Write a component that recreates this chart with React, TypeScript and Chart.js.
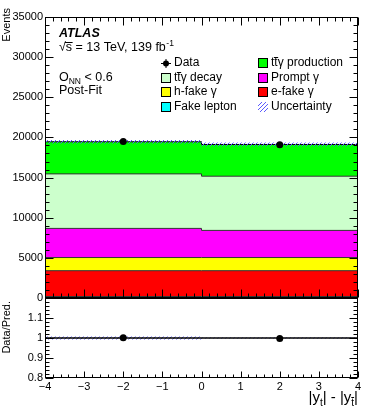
import React, { useEffect, useRef } from 'react';
import { Chart, registerables } from 'chart.js';
Chart.register(...registerables);

// ---- data ----
const binEdges = [-4, 0, 4];
const fakeLepton = [180, 180];
const eFakeGamma = [3220, 3220];
const hFakeGamma = [1640, 1640];
const promptGamma = [3630, 3380];
const ttyDecay = [6790, 6750];
const ttyProduction = [4000, 3955];
const totalUnc = [230, 230];
const dataX = [-2, 2];
const dataY = [19480, 19100];
const ratioData = [1.001, 0.997];
const ratioUnc = [0.007, 0.003];
const mainYRange = [0, 35000];
const mainYStep = 5000;
const ratioYRange = [0.8, 1.2];
const ratioYStep = 0.1;
const xRange = [-4, 4];

const FONT = '"Liberation Sans", Arial, Helvetica, sans-serif';

function stepPts(vals: number[]) {
  return [
    { x: binEdges[0], y: vals[0] },
    { x: binEdges[1], y: vals[1] },
    { x: binEdges[2], y: vals[1] },
  ];
}

function cumulative(list: number[][]) {
  const out: number[][] = [];
  let acc = [0, 0];
  for (const l of list) {
    acc = acc.map((a, i) => a + l[i]);
    out.push(acc.slice());
  }
  return out;
}

function makeHatch(ctx: CanvasRenderingContext2D) {
  const c = document.createElement('canvas');
  c.width = 4;
  c.height = 4;
  const g = c.getContext('2d')!;
  g.fillStyle = '#5a5aff';
  // pixel diagonal (/) lines, crisp
  for (let i = 0; i < 4; i++) g.fillRect(i, 3 - i, 1, 1);
  return ctx.createPattern(c, 'repeat')!;
}

function loopTicks(min: number, max: number, minor: number, perMajor: number, fn: (v: number, major: boolean) => void) {
  const n = Math.round((max - min) / minor);
  for (let i = 0; i <= n; i++) fn(min + i * minor, i % perMajor === 0);
}

function drawFrame(chart: any, cfg: any) {
  const ctx = chart.ctx as CanvasRenderingContext2D;
  const a = chart.chartArea;
  const xs = chart.scales.x;
  const ys = chart.scales.y;
  const L = Math.round(a.left) + 0.5;
  const R = Math.round(a.right) - 0.5;
  const T = Math.round(a.top) + 0.5;
  const B = Math.round(a.bottom) - 0.5;
  ctx.save();
  ctx.strokeStyle = '#000';
  ctx.lineWidth = 1;
  ctx.strokeRect(L, T, R - L, B - T);
  ctx.beginPath();
  loopTicks(cfg.ymin, cfg.ymax, cfg.yminor, 5, (v, maj) => {
    const y = Math.round(ys.getPixelForValue(v)) + 0.5;
    const len = maj ? cfg.yMajLen : cfg.yMinLen;
    ctx.moveTo(L, y); ctx.lineTo(L + len, y);
    ctx.moveTo(R, y); ctx.lineTo(R - len, y);
  });
  loopTicks(xRange[0], xRange[1], 0.2, 5, (v, maj) => {
    const x = Math.round(xs.getPixelForValue(v)) + 0.5;
    const len = maj ? cfg.xMajLen : cfg.xMinLen;
    ctx.moveTo(x, B); ctx.lineTo(x, B - len);
    if (cfg.topTicks) { ctx.moveTo(x, T); ctx.lineTo(x, T + len); }
  });
  ctx.stroke();
  ctx.restore();
}

function drawTT(ctx: CanvasRenderingContext2D, x: number, y: number, rest: string) {
  const wt = ctx.measureText('t').width;
  ctx.fillText('tt', x, y);
  ctx.save();
  ctx.lineWidth = 1;
  ctx.strokeStyle = '#000';
  ctx.beginPath();
  ctx.moveTo(x + wt - 0.5, Math.round(y - 6) + 0.5);
  ctx.lineTo(x + 2 * wt + 0.5, Math.round(y - 6) + 0.5);
  ctx.stroke();
  ctx.restore();
  ctx.fillText(rest, x + 2 * wt, y);
}

export default function App() {
  const mainRef = useRef<HTMLCanvasElement>(null);
  const ratioRef = useRef<HTMLCanvasElement>(null);

  useEffect(() => {
    const mctx = mainRef.current!.getContext('2d')!;
    const rctx = ratioRef.current!.getContext('2d')!;
    const hatchM = makeHatch(mctx);
    const hatchR = makeHatch(rctx);

    const comps = [
      { label: 'Fake lepton', vals: fakeLepton, color: '#00ffff' },
      { label: 'e-fake γ', vals: eFakeGamma, color: '#ff0000' },
      { label: 'h-fake γ', vals: hFakeGamma, color: '#ffff00' },
      { label: 'Prompt γ', vals: promptGamma, color: '#ff00ff' },
      { label: 'tt̄γ decay', vals: ttyDecay, color: '#ccffcc' },
      { label: 'tt̄γ production', vals: ttyProduction, color: '#00ff00' },
    ];
    const cum = cumulative(comps.map((c) => c.vals));
    const total = cum[cum.length - 1];

    const stackSets = comps.map((c, i) => ({
      label: c.label,
      data: stepPts(cum[i]),
      stepped: 'before' as const,
      backgroundColor: c.color,
      borderColor: i === comps.length - 1 ? '#000' : '#333',
      borderWidth: 1,
      pointRadius: 0,
      fill: i === 0 ? 'origin' : '-1',
      order: 3 + i,
    }));

    const tickFont = { family: FONT, size: 11 };

    const mainFramePlugin = {
      id: 'mainFrame',
      afterDraw(chart: any) {
        drawFrame(chart, {
          ymin: mainYRange[0], ymax: mainYRange[1], yminor: 1000,
          yMajLen: 8, yMinLen: 4, xMajLen: 8, xMinLen: 4, topTicks: true,
        });
        const ctx = chart.ctx as CanvasRenderingContext2D;
        ctx.save();
        ctx.fillStyle = '#000';
        ctx.textBaseline = 'alphabetic';
        ctx.textAlign = 'left';
        ctx.font = `bold italic 12.5px ${FONT}`;
        ctx.fillText('ATLAS', 59, 37);
        ctx.font = `12.5px ${FONT}`;
        const s1 = '√s = 13 TeV, 139 fb';
        ctx.fillText(s1, 59, 51);
        const wr = ctx.measureText('√').width;
        const ws = ctx.measureText('√s').width;
        ctx.strokeStyle = '#000';
        ctx.lineWidth = 1;
        ctx.beginPath();
        ctx.moveTo(59 + wr - 1, 42.5);
        ctx.lineTo(59 + ws + 0.5, 42.5);
        ctx.stroke();
        const w1 = ctx.measureText(s1).width;
        ctx.font = `8.5px ${FONT}`;
        ctx.fillText('-1', 59 + w1 + 0.5, 46);
        ctx.font = `12.5px ${FONT}`;
        ctx.fillText('O', 59, 81);
        const wo = ctx.measureText('O').width;
        ctx.font = `8.5px ${FONT}`;
        ctx.fillText('NN', 59 + wo, 84);
        const wnn = ctx.measureText('NN').width;
        ctx.font = `12.5px ${FONT}`;
        ctx.fillText(' < 0.6', 59 + wo + wnn, 81);
        ctx.fillText('Post-Fit', 59, 94);

        ctx.save();
        ctx.font = `11px ${FONT}`;
        ctx.translate(7, 8);
        ctx.rotate(-Math.PI / 2);
        ctx.textAlign = 'right';
        ctx.textBaseline = 'middle';
        ctx.fillText('Events', 0, 0);
        ctx.restore();

        const rows = [63, 77.5, 92, 106.5];
        const col1 = 161, col2 = 258, box = 10;
        ctx.font = `12px ${FONT}`;
        ctx.textBaseline = 'middle';
        const drawBox = (x: number, y: number, fillStyle: any, border: boolean) => {
          ctx.fillStyle = fillStyle;
          ctx.fillRect(x, Math.round(y - box / 2), box, box);
          if (border) {
            ctx.strokeStyle = '#000';
            ctx.lineWidth = 1;
            ctx.strokeRect(x + 0.5, Math.round(y - box / 2) + 0.5, box - 1, box - 1);
          }
          ctx.fillStyle = '#000';
        };
        ctx.strokeStyle = '#000';
        ctx.lineWidth = 1;
        ctx.beginPath();
        ctx.moveTo(col1, rows[0] + 0.5); ctx.lineTo(col1 + box, rows[0] + 0.5);
        ctx.moveTo(col1 + box / 2, rows[0] - 4); ctx.lineTo(col1 + box / 2, rows[0] + 5);
        ctx.stroke();
        ctx.beginPath();
        ctx.arc(col1 + box / 2, rows[0] + 0.5, 3, 0, Math.PI * 2);
        ctx.fillStyle = '#000';
        ctx.fill();
        ctx.fillText('Data', col1 + box + 3, rows[0]);
        drawBox(col2, rows[0], comps[5].color, true);
        drawTT(ctx, col2 + box + 3, rows[0], 'γ production');
        drawBox(col1, rows[1], comps[4].color, true);
        drawTT(ctx, col1 + box + 3, rows[1], 'γ decay');
        drawBox(col2, rows[1], comps[3].color, true);
        ctx.fillText('Prompt γ', col2 + box + 3, rows[1]);
        drawBox(col1, rows[2], comps[2].color, true);
        ctx.fillText('h-fake γ', col1 + box + 3, rows[2]);
        drawBox(col2, rows[2], comps[1].color, true);
        ctx.fillText('e-fake γ', col2 + box + 3, rows[2]);
        drawBox(col1, rows[3], comps[0].color, true);
        ctx.fillText('Fake lepton', col1 + box + 3, rows[3]);
        drawBox(col2, rows[3], hatchM, false);
        ctx.fillText('Uncertainty', col2 + box + 3, rows[3]);
        ctx.restore();
      },
    };

    const main = new Chart(mainRef.current!, {
      type: 'line',
      data: {
        datasets: [
          {
            label: 'Data',
            data: dataX.map((x, i) => ({ x, y: dataY[i] })),
            showLine: false,
            pointRadius: 3.5,
            pointBackgroundColor: '#000',
            pointBorderColor: '#000',
            pointBorderWidth: 0,
            order: 0,
          } as any,
          {
            label: 'uncLow',
            data: stepPts(total.map((t, i) => t - totalUnc[i])),
            stepped: 'before',
            borderWidth: 0,
            pointRadius: 0,
            fill: false,
            order: 2,
          },
          {
            label: 'uncHigh',
            data: stepPts(total.map((t, i) => t + totalUnc[i])),
            stepped: 'before',
            borderWidth: 0,
            pointRadius: 0,
            backgroundColor: hatchM,
            fill: '-1',
            order: 1,
          },
          ...stackSets,
        ] as any,
      },
      options: {
        animation: false,
        responsive: false,
        devicePixelRatio: 1,
        layout: { padding: { top: 17, right: 16, bottom: 117, left: 0 } },
        plugins: { legend: { display: false }, tooltip: { enabled: false } },
        scales: {
          x: { type: 'linear', min: xRange[0], max: xRange[1], display: false },
          y: {
            type: 'linear',
            min: mainYRange[0],
            max: mainYRange[1],
            ticks: { stepSize: mainYStep, font: tickFont, color: '#000', padding: 2, callback: (v: any) => String(v) },
            grid: { display: false, drawTicks: false },
            border: { display: false },
            afterFit: (s: any) => { s.width = 45; },
          },
        },
      } as any,
      plugins: [mainFramePlugin],
    });

    const ratioFramePlugin = {
      id: 'ratioFrame',
      afterDraw(chart: any) {
        drawFrame(chart, {
          ymin: ratioYRange[0], ymax: ratioYRange[1], yminor: 0.02,
          yMajLen: 8, yMinLen: 4, xMajLen: 6, xMinLen: 3, topTicks: false,
        });
        const ctx = chart.ctx as CanvasRenderingContext2D;
        ctx.save();
        ctx.fillStyle = '#000';
        ctx.save();
        ctx.font = `11px ${FONT}`;
        ctx.translate(7, 301);
        ctx.rotate(-Math.PI / 2);
        ctx.textAlign = 'right';
        ctx.textBaseline = 'middle';
        ctx.fillText('Data/Pred.', 0, 0);
        ctx.restore();
        const big = `15px ${FONT}`;
        const small = `10px ${FONT}`;
        const base = 402;
        const parts: [string, string, number][] = [
          ['|y', big, 0], ['t', small, 4], ['| - |y', big, 0], ['t', small, 4], ['|', big, 0],
        ];
        let total = 0;
        const widths = parts.map(([t, f]) => { ctx.font = f; const w = ctx.measureText(t).width; total += w; return w; });
        let x = 358 - total;
        ctx.textAlign = 'left';
        ctx.textBaseline = 'alphabetic';
        parts.forEach(([t, f, dy], i) => {
          ctx.font = f;
          ctx.fillText(t, x, base + dy);
          if (i === 3) {
            ctx.strokeStyle = '#000';
            ctx.lineWidth = 1;
            ctx.beginPath();
            ctx.moveTo(x, base + dy - 8.5);
            ctx.lineTo(x + widths[i], base + dy - 8.5);
            ctx.stroke();
          }
          x += widths[i];
        });
        ctx.restore();
      },
    };

    const ratio = new Chart(ratioRef.current!, {
      type: 'line',
      data: {
        datasets: [
          {
            label: 'Data',
            data: dataX.map((x, i) => ({ x, y: ratioData[i] })),
            showLine: false,
            pointRadius: 3.5,
            pointBackgroundColor: '#000',
            pointBorderColor: '#000',
            pointBorderWidth: 0,
            order: 0,
          } as any,
          {
            label: 'pred',
            data: stepPts([1, 1]),
            stepped: 'before',
            borderColor: '#000',
            borderWidth: 1.5,
            pointRadius: 0,
            fill: false,
            order: 1,
          },
          {
            label: 'uncLow',
            data: stepPts(ratioUnc.map((u) => 1 - u)),
            stepped: 'before',
            borderWidth: 0,
            pointRadius: 0,
            fill: false,
            order: 3,
          },
          {
            label: 'uncHigh',
            data: stepPts(ratioUnc.map((u) => 1 + u)),
            stepped: 'before',
            borderWidth: 0,
            pointRadius: 0,
            backgroundColor: hatchR,
            fill: '-1',
            order: 2,
          },
        ] as any,
      },
      options: {
        animation: false,
        responsive: false,
        devicePixelRatio: 1,
        layout: { padding: { top: 298, right: 16, bottom: 0, left: 0 } },
        plugins: { legend: { display: false }, tooltip: { enabled: false } },
        scales: {
          x: {
            type: 'linear',
            min: xRange[0],
            max: xRange[1],
            ticks: {
              stepSize: 1, font: tickFont, color: '#000', padding: 2, autoSkip: false, maxRotation: 0,
              callback: (v: any) => (v < 0 ? '\u2212' + Math.abs(v) : String(v)),
            },
            grid: { display: false, drawTicks: false },
            border: { display: false },
            afterFit: (s: any) => { s.height = 37; },
          },
          y: {
            type: 'linear',
            min: ratioYRange[0],
            max: ratioYRange[1],
            ticks: {
              stepSize: ratioYStep, font: tickFont, color: '#000', padding: 2,
              callback: (v: any) => (Math.abs(v - ratioYRange[1]) < 1e-6 ? '' : String(Math.round(v * 10) / 10)),
            },
            grid: { display: false, drawTicks: false },
            border: { display: false },
            afterFit: (s: any) => { s.width = 45; },
          },
        },
      } as any,
      plugins: [ratioFramePlugin],
    });

    return () => {
      main.destroy();
      ratio.destroy();
    };
  }, []);

  return (
    <div style={{ position: 'absolute', left: 0, top: 0, width: 374, height: 415, background: '#fff' }}>
      <canvas ref={mainRef} width={374} height={415} style={{ position: 'absolute', left: 0, top: 0 }} />
      <canvas ref={ratioRef} width={374} height={415} style={{ position: 'absolute', left: 0, top: 0 }} />
    </div>
  );
}
